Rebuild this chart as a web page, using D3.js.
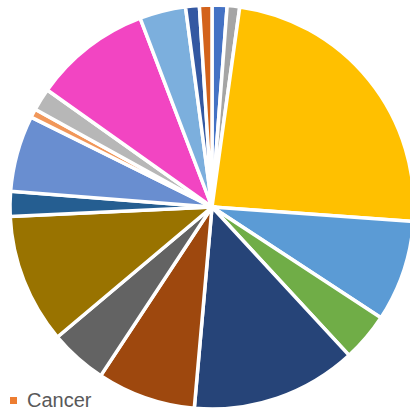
<!DOCTYPE html>
<html>
<head>
<meta charset="utf-8">
<script src="https://cdn.jsdelivr.net/npm/d3@7"></script>
<style>
  body { margin: 0; background: #fff; }
</style>
</head>
<body>
<div id="chart-area"></div>
<script>
let width = 410,
height = 411;

// slices, clockwise from 12 o'clock (labels only "Cancer" is readable)
let categories = ["Cause 1", "Cancer", "Cause 3", "Cause 4", "Cause 5", "Cause 6", "Cause 7",
  "Cause 8", "Cause 9", "Cause 10", "Cause 11", "Cause 12", "Cause 13", "Cause 14",
  "Cause 15", "Cause 16", "Cause 17", "Cause 18", "Cause 19", "Cause 20"];
let values = [1.2, 0, 1.0, 24.0, 8.1, 3.9, 13.3, 7.9, 4.6, 10.4, 2.0, 0,
  6.1, 0.7, 1.8, 9.4, 3.7, 0, 1.1, 1.0];
let colors = ["#4472C4", "#ED7D31", "#A5A5A5", "#FFC000", "#5B9BD5", "#70AD47", "#264478",
  "#9E480E", "#636363", "#997300", "#255E91", "#43682B", "#698ED0", "#F1975A",
  "#B7B7B7", "#F245C2", "#7CAFDD", "#8CC168", "#3458A2", "#D3621B"];
let legendShown = ["Cancer"];

let svg = d3.select("#chart-area").append("svg")
  .attr("width", width)
  .attr("height", height);

let cx = 212, cy = 207, radius = 202;

let pie = d3.pie()
  .value(d => d.value)
  .sort(null);

let arc = d3.arc()
  .innerRadius(0)
  .outerRadius(radius);

let data = categories.map((c, i) => ({name: c, value: values[i], color: colors[i]}));

let g = svg.append("g")
  .attr("transform", "translate(" + cx + "," + cy + ")");

g.selectAll("path")
  .data(pie(data).filter(d => d.data.value > 0))
  .enter()
  .append("path")
  .attr("d", arc)
  .attr("fill", d => d.data.color)
  .attr("stroke", "white")
  .attr("stroke-width", 3.5)
  .attr("stroke-linejoin", "miter");

// legend (only one entry fits)
let legend = svg.selectAll(".legend")
  .data(data.filter(d => legendShown.includes(d.name)))
  .enter()
  .append("g")
  .attr("class", "legend");

legend.append("rect")
  .attr("x", 10)
  .attr("y", 397)
  .attr("width", 7)
  .attr("height", 7)
  .attr("fill", d => d.color);

legend.append("text")
  .attr("x", 27)
  .attr("y", 407)
  .attr("font-family", "Liberation Sans, Arial, sans-serif")
  .attr("font-size", 20)
  .attr("fill", "#595959")
  .text(d => d.name);
</script>
</body>
</html>
